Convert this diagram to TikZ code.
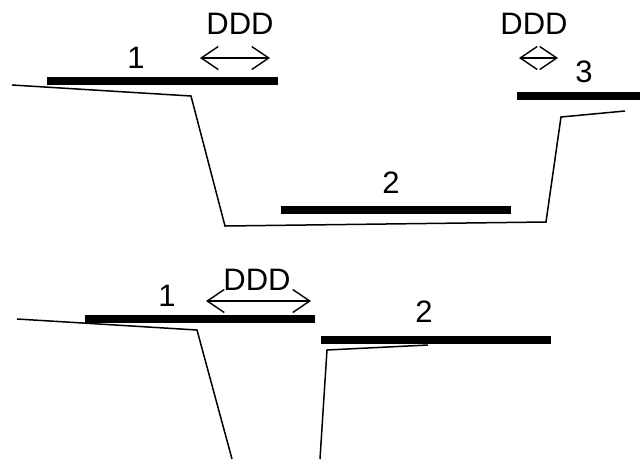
\documentclass[tikz,border=0pt]{standalone}
\usepackage{fontspec}
\setmainfont{Liberation Sans}
\usetikzlibrary{arrows.meta}
\tikzset{
  bar/.style={line width=8pt},
  profile/.style={line width=1.5pt,line join=miter},
  span/.style={line width=1.4pt,{Straight Barb[length=17pt,width=23pt,line width=1.4pt]}-{Straight Barb[length=17pt,width=23pt,line width=1.4pt]}},
  lbl/.style={font=\fontsize{31}{31}\selectfont,inner sep=0pt,text=black}
}
\begin{document}
\begin{tikzpicture}[x=1pt,y=-1pt]
  \useasboundingbox (0,0) rectangle (640,459);

  %top bars
  \draw[bar] (47,81) -- (278,81);
  \draw[bar] (281,210) -- (511,210);
  \draw[bar] (517,96) -- (640,96);

  %top profile
  \draw[profile] (12,85) -- (191,96) -- (225,226) -- (546,222) -- (561,117) -- (625,111);

  %top arrows
  \draw[span] (200,58) -- (270,58);
  \draw[span] (519,58) -- (558,58);

  %top labels
  \node[lbl] (dddl) at (240,24) {DDD};
  \node[lbl] (dddr) at (534,24) {DDD};
  \node[lbl] (one) at (136,58) {1};
  \node[lbl] (two) at (391,183) {2};
  \node[lbl] (three) at (584,72) {3};

  %bottom bars
  \draw[bar] (85,319) -- (315,319);
  \draw[bar] (321,340) -- (551,340);

  %bottom profile
  \draw[profile] (17,319) -- (197,330) -- (232,459);
  \draw[profile] (320,459) -- (327,350) -- (428,345);

  %bottom arrow
  \draw[span] (206,301) -- (311,301);

  %bottom labels
  \node[lbl] (dddb) at (257,280) {DDD};
  \node[lbl] (oneb) at (167,296) {1};
  \node[lbl] (twob) at (424,312) {2};
\end{tikzpicture}
\end{document}
